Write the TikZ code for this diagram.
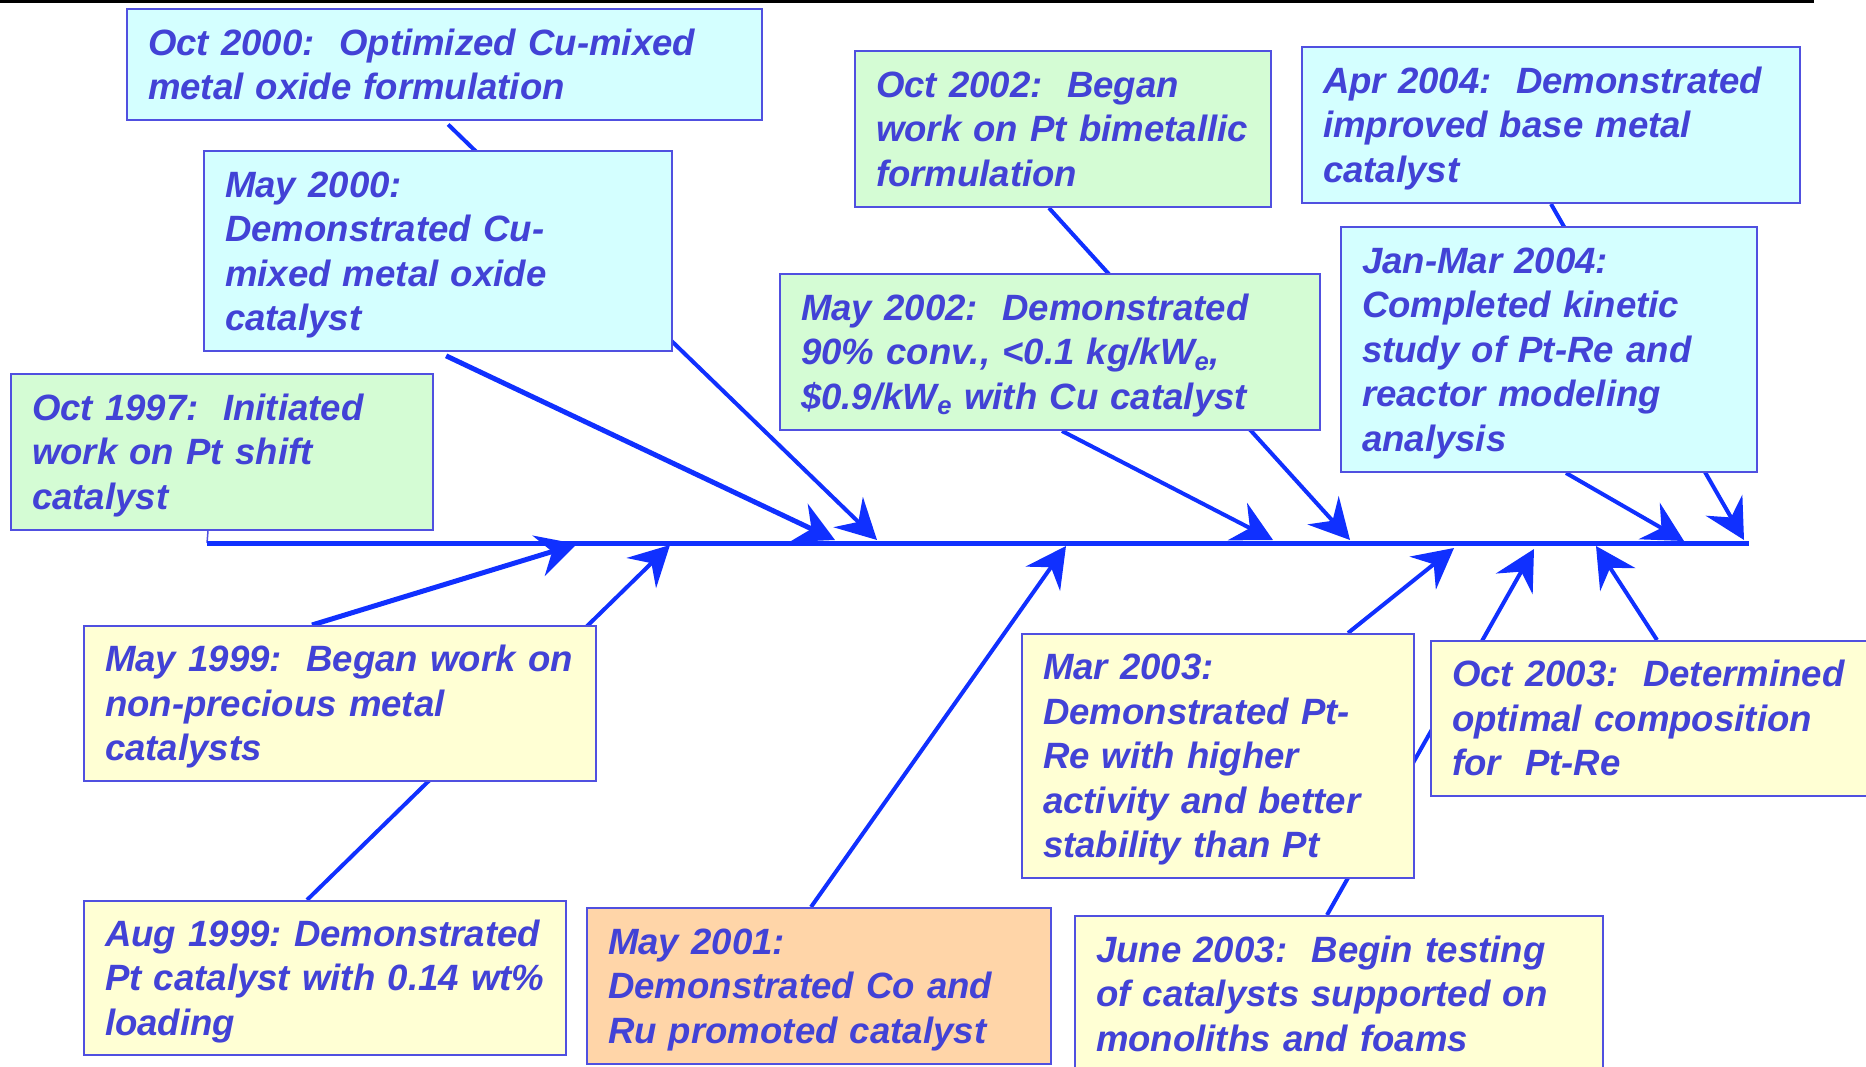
\documentclass[tikz,border=0pt]{standalone}
\usepackage{fontspec}
\setmainfont{Liberation Sans}
\usetikzlibrary{arrows.meta,backgrounds}
\definecolor{txtblue}{RGB}{66,66,214}
\definecolor{boxline}{RGB}{80,80,224}
\definecolor{arrowblue}{RGB}{16,48,255}
\definecolor{cyanbg}{RGB}{212,255,255}
\definecolor{greenbg}{RGB}{212,252,212}
\definecolor{yellowbg}{RGB}{255,255,212}
\definecolor{orangebg}{RGB}{255,213,168}
\newcommand{\evfont}{\fontsize{36.6}{44.5}\selectfont\bfseries\itshape}
\newcommand{\evlines}[1]{\begin{tabular}{@{}l@{}}\rule{0pt}{39pt}#1\end{tabular}}
\frenchspacing

\begin{document}
\begin{tikzpicture}[x=1pt, y=-1pt,
		event/.style={draw=boxline, line width=2pt, text=txtblue, font=\evfont, anchor=north west, align=left, inner xsep=21pt, inner ysep=0pt},
		bone/.style={color=arrowblue, line width=4pt, -{Stealth[length=40pt,width=42pt,inset=14pt]}}]
	\useasboundingbox (0,0) rectangle (1866,1067);
	\draw[line width=3pt] (0,1.5) -- (1814,1.5);
	% events above the spine
	\node[event, fill=cyanbg, text width=593pt, minimum height=111pt] (oct00) at (126,8) {\evlines{Oct 2000:~~Optimized Cu-mixed\\metal oxide formulation}};
	\node[event, fill=cyanbg, text width=426pt, minimum height=200pt] (may00) at (203,150) {\evlines{May 2000:\\Demonstrated Cu-\\mixed metal oxide\\catalyst}};
	\node[event, fill=greenbg, text width=380pt, minimum height=156pt] (oct97) at (10,373) {\evlines{Oct 1997:~~Initiated\\work on Pt shift\\catalyst}};
	\node[event, fill=greenbg, text width=374pt, minimum height=156pt] (oct02) at (854,50) {\evlines{Oct 2002:~~Began\\work on Pt bimetallic\\formulation}};
	\node[event, fill=greenbg, text width=498pt, minimum height=156pt] (may02) at (779,273) {\evlines{May 2002:~~Demonstrated\\90\% conv., <0.1 kg/kW\textsubscript{e},\\\$0.9/kW\textsubscript{e} with Cu catalyst}};
	\node[event, fill=cyanbg, text width=456pt, minimum height=156pt] (apr04) at (1301,46) {\evlines{Apr 2004:~~Demonstrated\\improved base metal\\catalyst}};
	\node[event, fill=cyanbg, text width=374pt, minimum height=245pt] (jan04) at (1340,226) {\evlines{Jan-Mar 2004:\\Completed kinetic\\study of Pt-Re and\\reactor modeling\\analysis}};
	% events below the spine
	\node[event, fill=yellowbg, text width=470pt, minimum height=155pt] (may99) at (83,625) {\evlines{May 1999:~~Began work on\\non-precious metal\\catalysts}};
	\node[event, fill=yellowbg, text width=440pt, minimum height=154pt] (aug99) at (83,900) {\evlines{Aug 1999: Demonstrated\\Pt catalyst with 0.14 wt\%\\loading}};
	\node[event, fill=orangebg, text width=422pt, minimum height=156pt] (may01) at (586,907) {\evlines{May 2001:\\Demonstrated Co and\\Ru promoted catalyst}};
	\node[event, fill=yellowbg, text width=350pt, minimum height=244pt] (mar03) at (1021,633) {\evlines{Mar 2003:\\Demonstrated Pt-\\Re with higher\\activity and better\\stability than Pt}};
	\node[event, fill=yellowbg, text width=418pt, minimum height=155pt] (oct03) at (1430,640) {\evlines{Oct 2003:~~Determined\\optimal composition\\for~~Pt-Re}};
	\node[event, fill=yellowbg, text width=486pt, minimum height=156pt] (jun03) at (1074,915) {\evlines{June 2003:~~Begin testing\\of catalysts supported on\\monoliths and foams}};
	% spine and where the bones meet it
	\coordinate (s0) at (207,543); \coordinate (s1) at (1749,543);
	\coordinate (tA) at (835,540); \coordinate (tB) at (877,540);
	\coordinate (tI) at (1273,540); \coordinate (tJ) at (1350,540);
	\coordinate (tK) at (1684,541); \coordinate (tL) at (1744,540);
	\coordinate (tC) at (577,544); \coordinate (tD) at (670,545);
	\coordinate (tE) at (1066,546); \coordinate (tF) at (1454,548);
	\coordinate (tG) at (1534,549); \coordinate (tH) at (1596,546);
	\begin{scope}[on background layer]
		\draw[boxline, line width=1.5pt] ([xshift=-14pt]oct97.south) -- (s0);
		\draw[arrowblue, line width=5pt] (s0) -- (s1);
		\path[bone]
		(may00.south) edge[shorten <=9pt, line width=5pt] (tA)
		(oct00.south) edge[shorten <=5pt] (tB)
		([xshift=12pt]may02.south) edge (tI)
		([xshift=-14pt]oct02.south) edge (tJ)
		([xshift=17pt]jan04.south) edge (tK)
		(apr04.south) edge (tL)
		([xshift=-28pt]may99.north) edge[line width=5pt] (tC)
		([xshift=-18pt]aug99.north) edge (tD)
		([xshift=-8pt]may01.north) edge (tE)
		([xshift=130pt]mar03.north) edge (tF)
		([xshift=-12pt]jun03.north) edge (tG)
		([xshift=-4pt]oct03.north) edge (tH);
	\end{scope}
\end{tikzpicture}
\end{document}
